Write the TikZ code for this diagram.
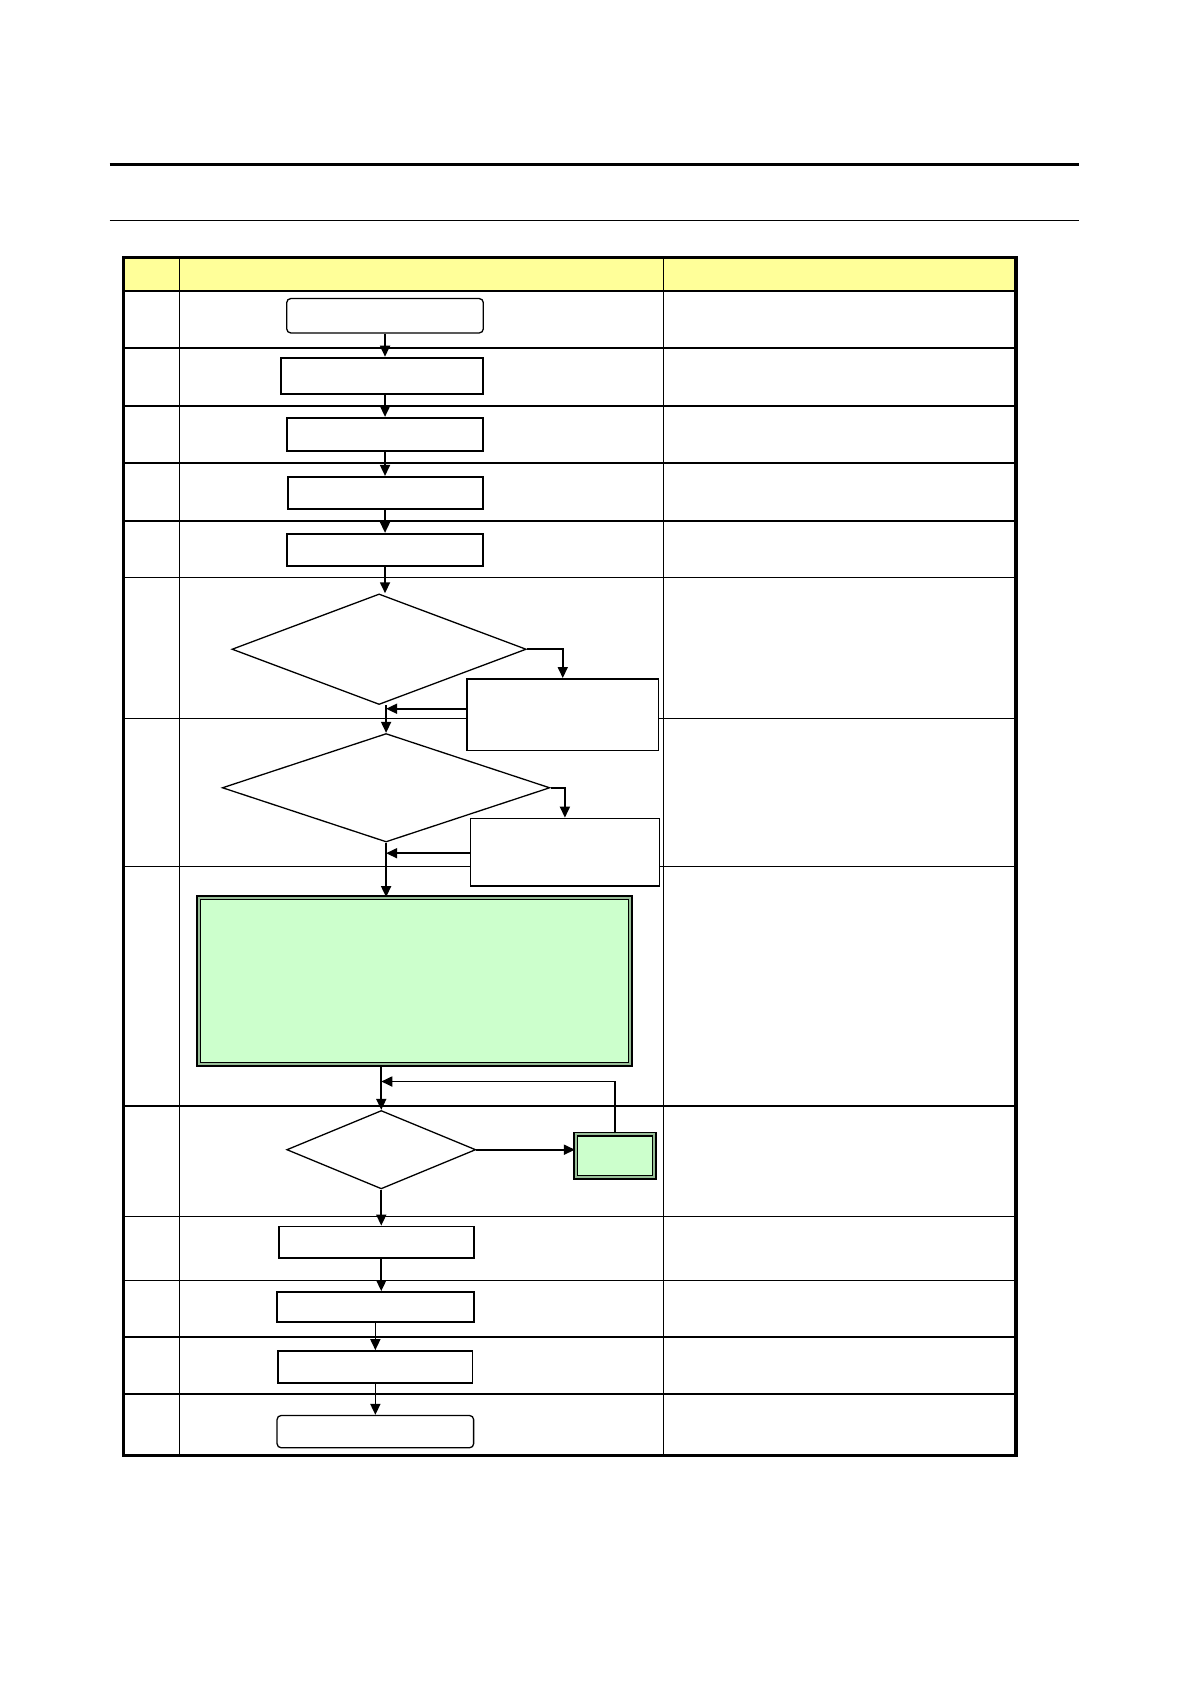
\documentclass[tikz,border=0pt]{standalone}
\usetikzlibrary{arrows.meta,shapes.geometric}
\def\unitpx{1.0739pt}
\definecolor{hdr}{HTML}{FFFF99}
\definecolor{mint}{HTML}{CCFFCC}
\tikzset{
  sz/.style 2 args = {minimum width=#1*\unitpx, minimum height=#2*\unitpx},
  box/.style   = {draw, line width=1.8pt, fill=white, inner sep=0pt},
  term/.style  = {box, rounded corners=4pt, line width=1.3pt},
  side/.style  = {box, line width=1.5pt},
  dec/.style   = {draw, diamond, line width=1.3pt, fill=white, inner sep=0pt},
  proc/.style  = {draw=black, fill=mint, inner sep=0pt, line width=1.5pt,
                  double=mint!75!black, double distance=2pt},
  e/.style     = {-{Triangle[length=11pt,width=10pt]}, line width=1.7pt},
  hrule/.style = {line width=1.3pt},
  hbold/.style = {line width=2.2pt},
  frame/.style = {line width=3.2pt}
}
\begin{document}
\begin{tikzpicture}[x=\unitpx, y=-\unitpx]
  \useasboundingbox (0,0) rectangle (1109,1568);
  \draw[line width=2.4pt] (102,153) -- (1005,153);
  \draw[line width=1.2pt] (102,205) -- (1005,205);
  \fill[hdr] (115,240) rectangle (946,271);
  \foreach \y in {271,324,485,538,669,807,1133,1192,1245}
    \draw[hrule] (115,\y) -- (946,\y);
  \foreach \y in {378,431,1030,1298}
    \draw[hbold] (115,\y) -- (946,\y);
  \draw[hrule] (167,240) -- (167,1355);
  \draw[hrule] (618,240) -- (618,1355);
  \draw[frame] (115,240) rectangle (946,1355);

  \node[term, sz={183}{32}] (b1) at (358.5,294) {};
  \node[box,  sz={188}{34}] (b2) at (356,350) {};
  \node[box,  sz={183}{31}] (b3) at (358.5,404.5) {};
  \node[box,  sz={182}{30}] (b4) at (359,459) {};
  \node[box,  sz={183}{30}] (b5) at (358.5,512) {};
  \node[dec,  sz={274}{103}] (d1) at (353,604.5) {};
  \node[side, sz={178}{67}] (s1) at (524,665.5) {};
  \node[dec,  sz={305}{101}] (d2) at (359.5,733.5) {};
  \node[side, sz={176}{63}] (s2) at (526,793.5) {};
  \node[proc, sz={402}{155}] (g1) at (386,913.5) {};
  \node[dec,  sz={176}{73}] (d3) at (355,1070.5) {};
  \node[proc, sz={73}{40}] (g2) at (572.5,1076) {};
  \node[box,  sz={181}{29}] (b10) at (350.5,1156.5) {};
  \node[box,  sz={183}{28}] (b11) at (349.5,1217) {};
  \node[box,  sz={181}{30}] (b12) at (349.5,1273) {};
  \node[term, sz={183}{30}] (b13) at (349.5,1333) {};
  \coordinate (lp) at (355,1007);

  \draw[e] (b1.south) -- (b1.south |- b2.north);
  \draw[e] (b3.north |- b2.south) -- (b3.north);
  \draw[e] (b3.south) -- (b3.south |- b4.north);
  \draw[e] (b5.north |- b4.south) -- (b5.north);
  \draw[e] (b5.south) -- (b5.south |- d1.north);
  \draw[e] (d1.east) -| (s1.north);
  \draw[e] ([yshift=6pt]s1.west) -- ([yshift=6pt]s1.west -| d2.north);
  \draw[e] (d2.north |- d1.south) -- (d2.north);
  \draw[e] (d2.east) -| (s2.north);
  \draw[e] ([yshift=-1pt]s2.west) -- ([yshift=-1pt]s2.west -| d2.south);
  \draw[e] (d2.south) -- (d2.south |- g1.north);
  \draw[e] (d3.north |- g1.south) -- (d3.north);
  \draw[e] (g2.north) |- (lp);
  \draw[e] (d3.east) -- (d3.east -| g2.west);
  \draw[e] (d3.south) -- (d3.south |- b10.north);
  \draw[e] (d3.south |- b10.south) -- (d3.south |- b11.north);
  \draw[e] (b11.south) -- (b11.south |- b12.north);
  \draw[e] (b12.south) -- (b12.south |- b13.north);
\end{tikzpicture}
\end{document}
